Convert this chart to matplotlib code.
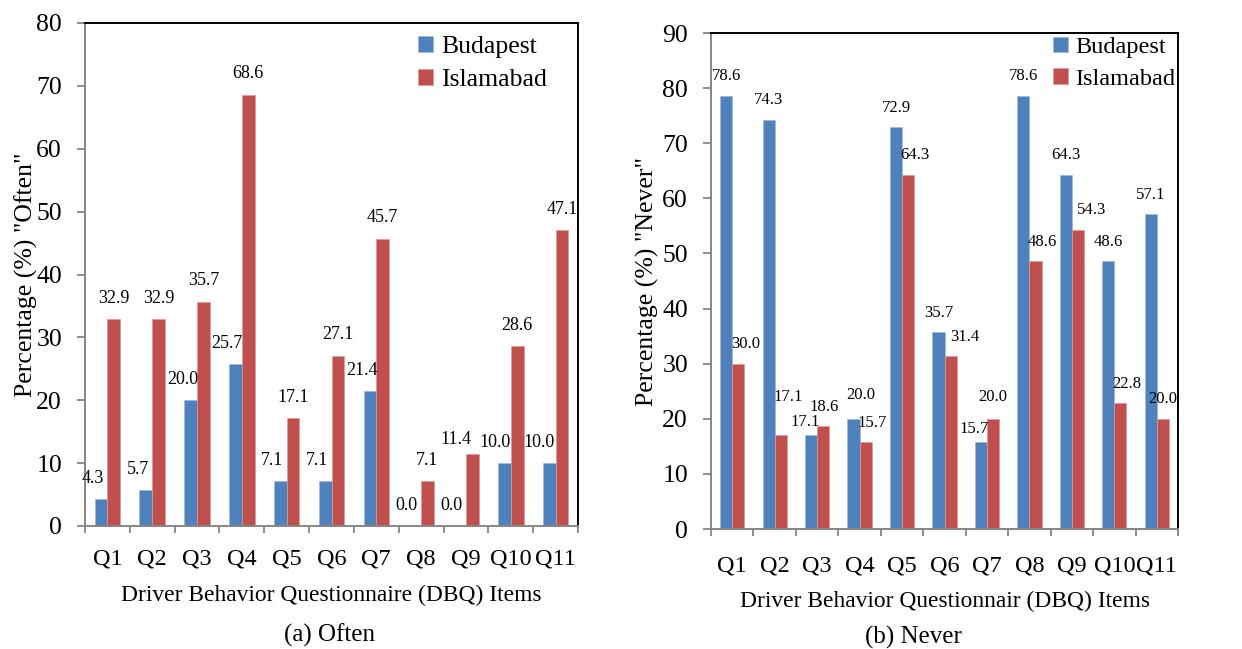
import numpy as np
import matplotlib.pyplot as plt
from matplotlib.ticker import FixedLocator, NullFormatter

plt.rcParams["font.family"] = ["Liberation Serif", "DejaVu Serif"]

items = ["Q1", "Q2", "Q3", "Q4", "Q5", "Q6", "Q7", "Q8", "Q9", "Q10", "Q11"]
cities = ["Budapest", "Islamabad"]

often_budapest = [4.3, 5.7, 20.0, 25.7, 7.1, 7.1, 21.4, 0.0, 0.0, 10.0, 10.0]
often_islamabad = [32.9, 32.9, 35.7, 68.6, 17.1, 27.1, 45.7, 7.1, 11.4, 28.6, 47.1]
never_budapest = [78.6, 74.3, 17.1, 20.0, 72.9, 35.7, 15.7, 78.6, 64.3, 48.6, 57.1]
never_islamabad = [30.0, 17.1, 18.6, 15.7, 64.3, 31.4, 20.0, 48.6, 54.3, 22.8, 20.0]

BLUE = "#4F81BD"
RED = "#C0504D"
GREY = "#868686"

# extra shifts (points) for crowded value labels: (series, item index) -> (dx, dy)
often_nudge = {(1, 8): (-12, -4), (0, 9): (-1, 0), (0, 10): (-1, 0)}
never_nudge = {
    (1, 1): (0, 13), (0, 2): (-4, -5), (1, 2): (-4, 0), (0, 3): (5, 3),
    (0, 6): (-5, -4), (1, 6): (-5, 2), (1, 5): (5, 0), (1, 8): (5, 0),
    (1, 10): (-5, 0),
}

W, H = 1242, 649
fig = plt.figure(figsize=(W / 100, H / 100), dpi=100)


def px_axes(l, t, r, b):
    return fig.add_axes([l / W, 1 - b / H, (r - l) / W, (b - t) / H])


def panel(ax, bud, isl, ymax, ylabel, xlabel, xl_fs, lab_fs, lab_dx, lab_dy,
          leg_xy, leg_fs, tick_pad, xlab_y, ylab_x, nudge=None):
    nudge = nudge or {}
    x = np.arange(len(items))
    bw = 0.285
    ax.bar(x - bw / 2, bud, bw, color=BLUE, edgecolor="#9db7da", linewidth=0.5,
           label=cities[0], zorder=2)
    ax.bar(x + bw / 2, isl, bw, color=RED, edgecolor="#dc9a98", linewidth=0.5,
           label=cities[1], zorder=2)

    # value labels above each bar
    for s, (vals, sign) in enumerate([(bud, -1), (isl, 1)]):
        for i, v in enumerate(vals):
            ndx, ndy = nudge.get((s, i), (0, 0))
            ax.annotate(f"{v:.1f}", (x[i] + sign * bw / 2, v),
                        xytext=(lab_dx[s] + ndx, lab_dy + ndy),
                        textcoords="offset points", ha="center", va="center",
                        fontsize=lab_fs)

    ax.set_xlim(-0.5, len(items) - 0.5)
    ax.set_ylim(0, ymax)
    ax.set_yticks(np.arange(0, ymax + 1, 10))
    ax.set_xticks(x)
    ax.set_xticklabels(items, fontsize=xl_fs)
    ax.xaxis.set_minor_locator(FixedLocator(np.arange(-0.5, len(items), 1.0)))
    ax.xaxis.set_minor_formatter(NullFormatter())
    ax.tick_params(axis="x", which="major", length=0, pad=tick_pad)
    ax.tick_params(axis="x", which="minor", length=5, width=1.3, color=GREY,
                   direction="out")
    ax.tick_params(axis="y", length=5.5, width=1.3, color=GREY, pad=11,
                   labelsize=18.5)

    for s in ("left", "bottom"):
        ax.spines[s].set_color(GREY)
        ax.spines[s].set_linewidth(1.4)
    for s in ("top", "right"):
        ax.spines[s].set_color("black")
        ax.spines[s].set_linewidth(1.4)

    ax.set_ylabel(ylabel, fontsize=18.5)
    ax.yaxis.set_label_coords(ylab_x, 0.5)
    ax.set_xlabel(xlabel, fontsize=xl_fs - 0.6)
    ax.xaxis.set_label_coords(0.5, xlab_y)

    ax.legend(loc="upper left", bbox_to_anchor=(leg_xy[0] / W, 1 - leg_xy[1] / H),
              bbox_transform=fig.transFigure, frameon=False, fontsize=leg_fs,
              borderpad=0, borderaxespad=0, handlelength=0.6, handleheight=0.6,
              handletextpad=0.3, labelspacing=0.42)


ax1 = px_axes(85, 23, 578, 526)
panel(ax1, often_budapest, often_islamabad, 80, 'Percentage (%) "Often"',
      "Driver Behavior Questionnaire (DBQ) Items", 17.5, 13,
      (-6, 0), 15, (418, 36), 18.5, 16, -0.118, -0.095, often_nudge)

ax2 = px_axes(711, 33, 1178, 529)
panel(ax2, never_budapest, never_islamabad, 90, 'Percentage (%) "Never"',
      "Driver Behavior Questionnair (DBQ) Items", 17.5, 12,
      (0, 5), 14, (1053, 37), 17.5, 19, -0.125, -0.111, never_nudge)

fig.text(330 / W, 1 - 635 / H, "(a) Often", ha="center", va="center", fontsize=18)
fig.text(913 / W, 1 - 637 / H, "(b) Never", ha="center", va="center", fontsize=18)

fig.savefig("out.png", dpi=100)
